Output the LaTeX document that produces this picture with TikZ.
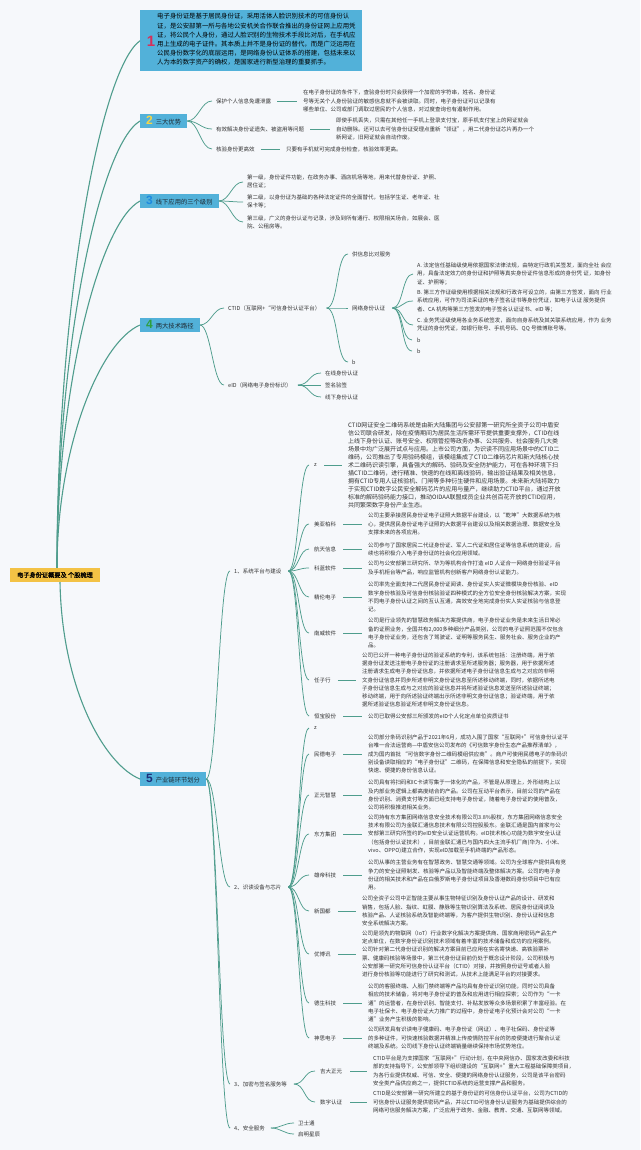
\documentclass[tikz,border=0pt]{standalone}
\usepackage{fontspec}
\setmainfont{Noto Sans CJK SC}
\newfontfamily\numfont{Liberation Sans}
\newfontfamily\rootfont{Noto Sans CJK SC}[FakeBold=1.5]
\definecolor{bg}{HTML}{F6F8FB}
\definecolor{secblue}{HTML}{52B1D9}
\definecolor{rooty}{HTML}{F3C245}
\definecolor{lc}{HTML}{4F9D8D}
\definecolor{txt}{HTML}{333333}
\definecolor{hd}{HTML}{1F2A33}
\definecolor{nA}{HTML}{D6305A}
\definecolor{nB}{HTML}{F5D547}
\definecolor{nC}{HTML}{1E8AE0}
\definecolor{nD}{HTML}{2E9E3E}
\definecolor{nE}{HTML}{1C2F7A}
\newcommand\pfs{\fontsize{5.5}{8.2}\selectfont}
\newcommand\lfs{\fontsize{5.5}{6.5}\selectfont}
\newcommand\hfs{\fontsize{6.3}{7}\selectfont}
\newcommand\secnum[2]{\textcolor{#1}{\numfont\bfseries\fontsize{12}{12}\selectfont #2}\hspace{3pt}}
\tikzset{
  lab/.style={font=\lfs, inner sep=1pt, anchor=west, text=txt},
  para/.style={font=\pfs, inner sep=0pt, anchor=west, align=left, text=txt},
  link/.style={draw=lc, line width=0.75pt},
  rlink/.style={draw=lc, line width=1.1pt},
  leaf/.style={draw=lc, line width=0.7pt},
  secbox/.style={fill=secblue, inner xsep=6pt, inner ysep=0pt, minimum height=14pt, anchor=west, font=\hfs, text=hd},
}
\begin{document}
\begin{tikzpicture}[x=1pt,y=-1pt]
\useasboundingbox (0,0) rectangle (640,1150);
\fill[bg] (0,0) rectangle (640,1150);

% root
\node[fill=rooty, minimum width=90pt, minimum height=14pt, inner sep=0pt, font=\rootfont\fontsize{6.2}{7}\selectfont] (root) at (55,575) {电子身份证概要及 个股梳理};

% section 1
\node[fill=secblue, minimum width=222pt, minimum height=61pt, inner sep=0pt, anchor=north west] (s1) at (140,10) {};
\node[font=\numfont\bfseries\fontsize{15}{15}\selectfont, text=nA, inner sep=0pt] (s1n) at (151,41) {1};
\node[para, font=\fontsize{6.4}{9.2}\selectfont, text=black] (s1t) at (157,39.5) {电子身份证是基于居民身份证，采用活体人脸识别技术的可信身份认\\证，是公安部第一所与各地公安机关合作联合推出的身份证网上应用凭\\证，将公民个人身份，通过人脸识别的生物技术手段比对后，在手机应\\用上生成的电子证件。其本质上并不是身份证的替代，而是广泛运用在\\公民身份数字化的底层运用，是网络身份认证体系的搭建，包括未来以\\人为本的数字资产的确权，是国家进行新型治理的重要抓手。};

% section boxes
\node[secbox] (s2) at (140,121) {\secnum{nB}{2}三大优势};
\node[secbox] (s3) at (140,201) {\secnum{nC}{3}线下应用的三个级别};
\node[secbox] (s4) at (140,325) {\secnum{nD}{4}两大技术路径};
\node[secbox] (s5) at (140,779) {\secnum{nE}{5}产业链环节划分};

% root links
\draw[rlink] ([xshift=2pt]root.north) .. controls (57,304) and (100,70) .. (s1.west);
\draw[rlink] ([xshift=2pt]root.north) .. controls (57,345) and (100,145) .. (s2.west);
\draw[rlink] ([xshift=2pt]root.north) .. controls (57,385) and (100,222) .. (s3.west);
\draw[rlink] ([xshift=2pt]root.north) .. controls (57,447) and (100,342) .. (s4.west);
\draw[rlink] ([xshift=5pt]root.south) .. controls (62,690) and (105,765) .. (s5.west);

% section 2 children
\node[lab] (a1) at (215,101) {保护个人信息免遭泄露};
\node[para] (a1t) at (303,101) {在电子身份证的条件下，查验身份时只会获得一个加密的字符串，姓名、身份证\\号等无关个人身份验证的敏感信息就不会被读取。同时，电子身份证可以记录有\\哪些单位、公司或部门调取过居民的个人信息，对过度查询也有遏制作用。};
\node[lab] (a2) at (215,129) {有效解决身份证遗失、被盗用等问题};
\node[para] (a2t) at (336,129) {即使手机丢失，只需在其他任一手机上登录支付宝，原手机支付宝上的网证就会\\自动删除。还可以去可信身份证受理点重新“领证”，用二代身份证芯片再办一个\\新网证，旧网证就会自动作废。};
\node[lab] (a3) at (215,149) {核验身份更高效};
\node[para] (a3t) at (286,149) {只要有手机就可完成身份检查，核验效率更高。};
\foreach \c in {a1,a2,a3}
  \draw[link] (s2.east) .. controls +(11,0) and +(-11,0) .. ([xshift=-3pt]\c.west);
\foreach \c in {a1,a2,a3}
  \draw[leaf] ([xshift=5pt]\c.east) -- ([xshift=-6pt]\c t.west);

% section 3 children
\node[para] (b1) at (247,182) {第一级，身份证件功能，在政务办事、酒店机场等地，用来代替身份证、护照、\\居住证；};
\node[para] (b2) at (247,202) {第二级，以身份证为基础的各种法定证件的全面替代，包括学生证、老年证、社\\保卡等；};
\node[para] (b3) at (247,222) {第三级，广义的身份认证与记录，涉及到所有通行、权限相关场合，如展会、医\\院、公租房等。};
\foreach \c in {b1,b2,b3}
  \draw[link] (s3.east) .. controls +(11,0) and +(-11,0) .. ([xshift=-4pt]\c.west);

% section 4 children
\node[lab] (c1) at (227,308) {CTID（互联网+“可信身份认证平台）};
\node[lab] (c2) at (227,385) {eID（网络电子身份标识）};
\foreach \c in {c1,c2}
  \draw[link] (s4.east) .. controls +(11,0) and +(-11,0) .. ([xshift=-3pt]\c.west);
\node[lab] (c11) at (351,254) {供信息比对服务};
\node[lab] (c12) at (351,308) {网络身份认证};
\node[lab] (c13) at (351,362) {b};
\foreach \c in {c11,c12,c13}
  \draw[link] ([xshift=5pt]c1.east) .. controls +(12,0) and +(-12,0) .. ([xshift=-3pt]\c.west);
\node[para] (c121) at (417,274) {A. 法定信任基础级使用依据国家法律法规，由特定行政机关签发，面向全社 会应\\用，具备法定效力的身份证和护照等真实身份证件信息形成的身份凭 证，如身份\\证、护照等；};
\node[para] (c122) at (417,301) {B. 第三方作证级使用根据相关法规和行政许可设立的，由第三方签发，面向 行业\\系统应用，可作为司法采证的电子签名证书等身份凭证，如电子认证 服务提供\\者、CA 机构等第三方签发的电子签名认证证书、eID 等；};
\node[para] (c123) at (417,325) {C. 业务凭证级使用各业务系统签发，面向自身系统及其关联系统应用，作为 业务\\凭证的身份凭证，如银行账号、手机号码、QQ 号微博账号等。};
\node[lab] (c124) at (416,340) {b};
\node[lab] (c125) at (416,351) {b};
\foreach \c in {c121,c122,c123,c124,c125}
  \draw[link] ([xshift=6pt]c12.east) .. controls +(11,0) and +(-11,0) .. ([xshift=-4pt]\c.west);
\node[lab] (c21) at (324,373) {在线身份认证};
\node[lab] (c22) at (324,385) {签名验签};
\node[lab] (c23) at (324,397) {线下身份认证};
\foreach \c in {c21,c22,c23}
  \draw[link] ([xshift=5pt]c2.east) .. controls +(12,0) and +(-12,0) .. ([xshift=-3pt]\c.west);

% section 5 children
\node[lab] (d1) at (233,571) {1、系统平台与建设};
\node[lab] (d2) at (233,887) {2、识读设备与芯片};
\node[lab] (d3) at (233,1084) {3、加密与签名服务等};
\node[lab] (d4) at (233,1128) {4、安全服务};
\foreach \c in {d1,d2,d3,d4}
  \draw[link] (s5.east) .. controls +(11,0) and +(-11,0) .. ([xshift=-3pt]\c.west);

% 1. 系统平台与建设
\node[lab] (e1) at (313,465) {z};
\node[para, font=\fontsize{6}{8}\selectfont] (e1t) at (348,465) {CTID网证安全二维码系统是由新大陆集团与公安部第一研究所全资子公司中盾安\\信公司联合研发，除在疫情期间为居民生活所需环节提供重要支撑外，CTID在线\\上线下身份认证、账号安全、权限管控等政务办事、公共服务、社会服务几大类\\场景中均广泛展开试点与应用。上市公司方面，为识读不同应用场景中的CTID二\\维码，公司推出了专用验码模组，该模组集成了CTID二维码芯片和新大陆核心技\\术二维码识读引擎，具备强大的解码、验码及安全防护能力，可在各种环境下扫\\描CTID二维码，进行精准、快速的在线和离线验码，输出验证结果及相关信息，\\拥有CTID专用人证核验机、门闸等多种衍生硬件和应用场景。未来新大陆将致力\\于实现CTID数字公民安全解码芯片的应用与量产，继续助力CTID平台，通过开放\\标准的解码验码能力接口，推动OIDAA联盟成员企业共创百花齐放的CTID应用，\\共同繁荣数字身份产业生态。};
\node[lab] (e2) at (313,524) {美亚柏科};
\node[para] (e2t) at (368,524) {公司主要承接居民身份证电子证照大数据平台建设，以“乾坤”大数据系统为核\\心，提供居民身份证电子证照的大数据平台建设以及相关数据治理、数据安全及\\支撑未来的各项应用。};
\node[lab] (e3) at (313,549) {航天信息};
\node[para] (e3t) at (368,549) {公司参与了国家居民二代证身份证、军人二代证和居住证等信息系统的建设，后\\续也将积极介入电子身份证的社会化应用领域。};
\node[lab] (e4) at (313,568) {科蓝软件};
\node[para] (e4t) at (368,568) {公司与公安部第三研究所、华为等机构合作打造 eID 人证合一网络身份验证平台\\及手机柜台等产品，响应监管机构创新客户网络身份认证能力。};
\node[lab] (e5) at (313,597) {精伦电子};
\node[para] (e5t) at (368,597) {公司率先全面支持二代居民身份证阅读、身份证实人实证微模块身份核验、eID\\数字身份核验及可信身份核验验证四种模式的全方位安全身份核验解决方案，实现\\不同电子身份认证之间的互认互通，高效安全地完成身份实人实证核验与信息登\\记。};
\node[lab] (e6) at (313,633) {南威软件};
\node[para] (e6t) at (368,633) {公司是行业领先的智慧政务解决方案提供商，电子身份证业务是未来生活日常必\\备的证照业务，全国共有2,000多种细分产品类别，公司的电子证照范围不仅包含\\电子身份证业务，还包含了驾驶证、证明等服务民生、服务社会、服务企业的产\\品。};
\node[lab] (e7) at (313,680) {任子行};
\node[para] (e7t) at (362,680) {公司已公开一种电子身份证的验证系统的专利，该系统包括：注册终端，用于依\\据身份证发送注册电子身份证的注册请求至所述服务器；服务器，用于依据所述\\注册请求生成电子身份证信息，并依据所述电子身份证信息生成与之对应的非明\\文身份证信息并同步所述非明文身份证信息至所述移动终端，同时，依据所述电\\子身份证信息生成与之对应的验证信息并将所述验证信息发送至所述验证终端；\\移动终端，用于向所述验证终端出示所述非明文身份证信息；验证终端，用于依\\据所述验证信息验证所述非明文身份证信息。};
\node[lab] (e8) at (313,716) {恒宝股份};
\node[para] (e8t) at (368,716) {公司已取得公安部三所颁发的eID个人化定点单位资质证书};
\foreach \c in {e1,e2,e3,e4,e5,e6,e7,e8}
  \draw[link] ([xshift=6pt]d1.east) .. controls +(10,0) and +(-10,0) .. ([xshift=-4pt]\c.west);
\foreach \c in {e1,e2,e3,e4,e5,e6,e7,e8}
  \draw[leaf] ([xshift=6pt]\c.east) -- ([xshift=-6pt]\c t.west);

% 2. 识读设备与芯片
\node[lab] (f1) at (313,728) {z};
\node[lab] (f2) at (313,754) {民德电子};
\node[para] (f2t) at (368,754) {公司部分条码识别产品于2021年6月，成功入围了国家“互联网+”可信身份认证平\\台唯一合法运营商—中盾安信公司发布的《可信数字身份生态产品推荐清单》，\\成为国内首批 “可信数字身份二维码模组供应商”。商户可使用民德电子的条码识\\别设备读取相应的“电子身份证”二维码，在保障信息和安全隐私的前提下，实现\\快速、便捷的身份信息认证。};
\node[lab] (f3) at (313,795) {正元智慧};
\node[para] (f3t) at (368,795) {公司具有将扫码和IC卡读写集于一体化的产品，不管是从原理上，外形结构上以\\及内部业务逻辑上都高度结合的产品。公司在互动平台表示，目前公司的产品在\\身份识别、消费支付等方面已经支持电子身份证，随着电子身份证的使用普及，\\公司将积极推进相关业务。};
\node[lab] (f4) at (313,834) {东方集团};
\node[para] (f4t) at (368,834) {公司持有东方集团网络信息安全技术有限公司3.8\%股权，东方集团网络信息安全\\技术有限公司为金联汇通信息技术有限公司控股股东。金联汇通是国内首家与公\\安部第三研究所签约的eID安全认证运营机构。eID技术核心功能为数字安全认证\\（包括身份认证技术），目前金联汇通已与国内四大主流手机厂商(华为、小米、\\vivo、OPPO)建立合作，实现eID加载至手机终端的产品形态。};
\node[lab] (f5) at (313,875) {雄帝科技};
\node[para] (f5t) at (368,875) {公司从事的主营业务有在智慧政务、智慧交通等领域。公司为全球客户提供具有竞\\争力的安全证照制发、核验等产品以及智能终端及整体解决方案。公司的电子身\\份证的相关技术和产品在白俄罗斯电子身份证项目及香港数码身份项目中已有应\\用。};
\node[lab] (f6) at (313,911) {新国都};
\node[para] (f6t) at (362,911) {公司全资子公司中正智能主要从事生物特征识别及身份认证产品的设计、研发和\\销售，包括人脸、指纹、虹膜、静脉等生物识别算法及系统、居民身份证阅读及\\核验产品、人证核验系统及智能终端等，为客户提供生物识别、身份认证和信息\\安全系统解决方案。};
\node[lab] (f7) at (313,954) {优博讯};
\node[para] (f7t) at (362,954) {公司是领先的物联网（IoT）行业数字化解决方案提供商、国家商用密码产品生产\\定点单位，在数字身份证识别技术领域有着丰富的技术储备和成功的应用案例。\\公司针对第二代身份证识别的解决方案目前已应用在实名寄快递、高铁验票补\\票、健康码核验等场景中，第三代身份证目前仍处于概念设计阶段，公司积极与\\公安部第一研究所可信身份认证平台（CTID）对接，并按照身份证号或者人脸\\进行身份核验等功能进行了研究和测试，从技术上能满足平台的对接要求。};
\node[lab] (f8) at (313,1003) {德生科技};
\node[para] (f8t) at (368,1003) {公司的客服终端、人脸门禁终端等产品均具有身份证识别功能，同时公司具备\\相应的技术储备，将对电子身份证的普及和应用进行相应探索；公司作为“一卡\\通”的运营者，在身份识别、智能支付、补贴发放等众多场景积累了丰富经验。在\\电子社保卡、电子身份证大力推广的过程中，身份证电子化预计会对公司“一卡\\通”业务产生积极的影响。};
\node[lab] (f9) at (313,1038) {神思电子};
\node[para] (f9t) at (368,1038) {公司研发具有识读电子健康码、电子身份证（网证）、电子社保码、身份证等\\的多种证件，可快速核验数据并精准上传疫情防控平台的防疫便捷进行聚合认证\\终端及系统。公司线下身份认证终端销量继续保持市场优势地位。};
\foreach \c in {f1,f2,f3,f4,f5,f6,f7,f8,f9}
  \draw[link] ([xshift=6pt]d2.east) .. controls +(10,0) and +(-10,0) .. ([xshift=-4pt]\c.west);
\foreach \c in {f2,f3,f4,f5,f6,f7,f8,f9}
  \draw[leaf] ([xshift=6pt]\c.east) -- ([xshift=-6pt]\c t.west);

% 3. 加密与签名服务等
\node[lab] (g1) at (319,1071) {吉大正元};
\node[para] (g1t) at (373,1071) {CTID平台是为支撑国家“互联网+”行动计划，在中央网信办、国家发改委和科技\\部的支持指导下，公安部领导下组织建设的“互联网+”重大工程基础保障类项目，\\为各行业提供权威、可信、安全、便捷的网络身份认证服务，公司是该平台密码\\安全类产品供应商之一，提供CTID系统的运营支撑产品和服务。};
\node[lab] (g2) at (319,1102) {数字认证};
\node[para] (g2t) at (373,1102) {CTID是公安部第一研究所建立的基于身份证的可信身份认证平台，公司为CTID的\\可信身份认证服务提供密码产品，并以CTID可信身份认证服务为基础提供综合的\\网络可信服务解决方案，广泛应用于政务、金融、教育、交通、互联网等领域。};
\foreach \c in {g1,g2}
  \draw[link] ([xshift=6pt]d3.east) .. controls +(11,0) and +(-11,0) .. ([xshift=-4pt]\c.west);
\foreach \c in {g1,g2}
  \draw[leaf] ([xshift=7pt]\c.east) -- ([xshift=-6pt]\c t.west);

% 4. 安全服务
\node[lab] (h1) at (297,1123) {卫士通};
\node[lab] (h2) at (297,1134) {启明星辰};
\foreach \c in {h1,h2}
  \draw[link] ([xshift=5pt]d4.east) .. controls +(10,0) and +(-10,0) .. ([xshift=-3pt]\c.west);
\end{tikzpicture}
\end{document}
